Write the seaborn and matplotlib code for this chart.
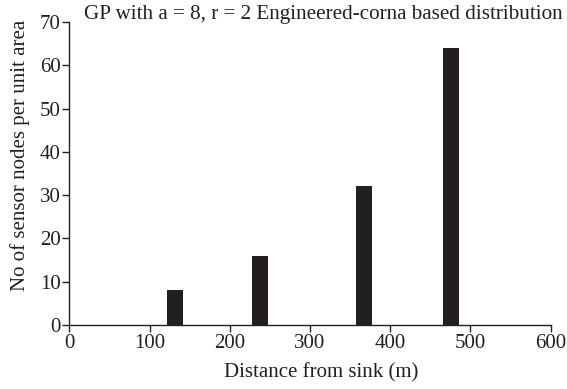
import matplotlib
matplotlib.use("Agg")
import matplotlib.pyplot as plt
import seaborn as sns
import pandas as pd

# Ring distances from the sink and node density per unit area (GP: a = 8, r = 2)
distance_m = [132, 238, 367, 476]
nodes_per_area = [8, 16, 32, 64]
x_ticks = [0, 100, 200, 300, 400, 500, 600]
y_ticks = [0, 10, 20, 30, 40, 50, 60, 70]

df = pd.DataFrame({"distance": distance_m, "nodes": nodes_per_area})

sns.set_style("ticks")
plt.rcParams["font.family"] = ["Liberation Serif", "DejaVu Serif"]
plt.rcParams["font.size"] = 15
plt.rcParams["axes.linewidth"] = 1.0
plt.rcParams["xtick.major.width"] = 1.0
plt.rcParams["ytick.major.width"] = 1.0
plt.rcParams["xtick.major.size"] = 4.7
plt.rcParams["ytick.major.size"] = 4.7
plt.rcParams["xtick.color"] = "#231f20"
plt.rcParams["ytick.color"] = "#231f20"
plt.rcParams["axes.edgecolor"] = "#231f20"

fig = plt.figure(figsize=(5.67, 3.89), dpi=100)
ax = fig.add_axes([0.1222, 0.1645, 0.849, 0.779])

bar_width = 20
spacing = min(b - a for a, b in zip(distance_m, distance_m[1:]))
sns.barplot(data=df, x="distance", y="nodes", native_scale=True,
            width=bar_width / spacing,
            color="#231f20", saturation=1, edgecolor="none", ax=ax)

ax.set_xlim(0, 600)
ax.set_ylim(0, 70)
ax.set_xticks(x_ticks)
ax.set_yticks(y_ticks)
ax.tick_params(labelsize=15, labelcolor="#231f20", pad=1.5)
ax.set_xlabel("Distance from sink (m)", fontsize=15, color="#231f20")
ax.set_ylabel("No of sensor nodes per unit area", fontsize=15, color="#231f20")
ax.xaxis.set_label_coords(0.523, -0.125)
ax.yaxis.set_label_coords(-0.082, 0.559)
sns.despine(ax=ax)

fig.text(0.148, 0.95, "GP with a = 8, r = 2 Engineered-corna based distribution",
         ha="left", va="baseline", fontsize=15.2, color="#231f20")

fig.savefig("out.png", dpi=100)
